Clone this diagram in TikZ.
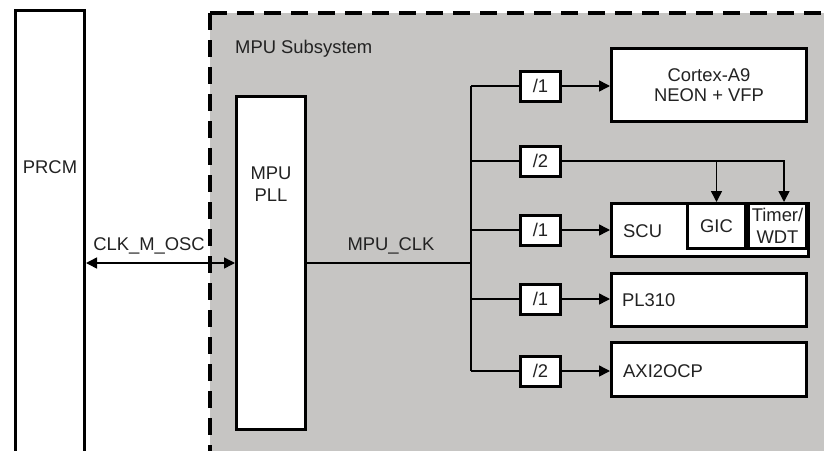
\documentclass[tikz,border=0pt]{standalone}
\usepackage{fontspec}
\setmainfont{Liberation Sans}
\usetikzlibrary{arrows.meta}
\definecolor{bg}{HTML}{C6C5C3}
\definecolor{txt}{HTML}{222222}
\begin{document}
\begin{tikzpicture}[x=1pt,y=-1pt,
  box/.style={draw=black,line width=3pt,fill=white,inner sep=0pt,anchor=center,
    text=txt,font=\fontsize{18.4}{22}\selectfont},
  divbox/.style={box,minimum width=40pt,minimum height=30pt},
  lbl/.style={text=txt,font=\fontsize{18.4}{22}\selectfont,inner sep=0pt},
  wire/.style={draw=black,line width=1.5pt},
  arr/.style={wire,-{Triangle[length=11pt,width=11pt]}},
  border/.style={draw=black,line width=3.2pt,dash pattern=on 17pt off 10pt}
]
\useasboundingbox (0,0) rectangle (824,450);
% subsystem background
\path[fill=bg] (210,13) rectangle (840,470);
\draw[border] (210,13) -- (210,470);
\draw[border] (210,13) -- (840,13);
\node[lbl,anchor=base west] (title) at (235,53) {MPU Subsystem};

% main blocks
\node[box,minimum width=69pt,minimum height=470pt] (prcm) at (50,245) {};
\node[lbl] (prcmt) at (50,167) {PRCM};
\node[box,minimum width=69pt,minimum height=333pt] (pll) at (271,263) {};
\node[lbl,align=center,font=\fontsize{18.4}{21.5}\selectfont] (pllt) at (271,184) {MPU\\PLL};

% targets
\node[box,minimum width=195pt,minimum height=73pt,align=center,
  font=\fontsize{18.4}{20}\selectfont] (cortex) at (709,85) {Cortex-A9\\NEON + VFP};
\node[box,minimum width=197pt,minimum height=53pt] (scu) at (710,230) {};
\node[lbl,anchor=west] (scut) at (623,231) {SCU};
\node[box,minimum width=58pt,minimum height=45pt] (gic) at (716.5,226) {GIC};
\node[box,minimum width=58pt,minimum height=45pt,align=center,
  font=\fontsize{18.4}{22.5}\selectfont] (timer) at (777.5,226) {Timer/\\WDT};
\node[box,minimum width=195pt,minimum height=53pt] (pl) at (709,300) {};
\node[lbl,anchor=west] (plt) at (622,300) {PL310};
\node[box,minimum width=195pt,minimum height=54pt] (axi) at (709,369.5) {};
\node[lbl,anchor=west] (axit) at (623,371) {AXI2OCP};

% dividers
\node[divbox] (d1) at (540.5,86) {/1};
\node[divbox] (d2) at (540.5,161) {/2};
\node[divbox] (d3) at (540.5,230) {/1};
\node[divbox] (d4) at (540.5,299) {/1};
\node[divbox] (d5) at (540.5,371) {/2};

% clock bus
\coordinate (bus) at (471,0);
\coordinate (tw) at (784,0);
\draw[wire] (bus |- d1.west) -- (bus |- d5.west);
\foreach \d in {d1,d2,d3,d4,d5} \draw[wire] (bus |- \d.west) -- (\d.west);
\draw[wire] (pll.east) -- (bus |- pll.east);
\node[lbl,anchor=base] (clk) at (391,250) {MPU\_CLK};

% CLK_M_OSC
\draw[wire,{Triangle[length=11pt,width=11pt]}-{Triangle[length=11pt,width=11pt]}]
  (prcm.east |- pll.west) -- (pll.west);
\node[lbl,anchor=base] (osc) at (149,250) {CLK\_M\_OSC};

% divider outputs
\draw[arr] (d1.east) -- (d1.east -| cortex.west);
\draw[arr] (d3.east) -- (d3.east -| scu.west);
\draw[arr] (d4.east) -- (d4.east -| pl.west);
\draw[arr] (d5.east) -- (d5.east -| axi.west);
\draw[arr] (d2.east) -- (d2.east -| tw) -- (tw |- timer.north);
\draw[arr] (d2.east -| gic.north) -- (gic.north);
\end{tikzpicture}
\end{document}
